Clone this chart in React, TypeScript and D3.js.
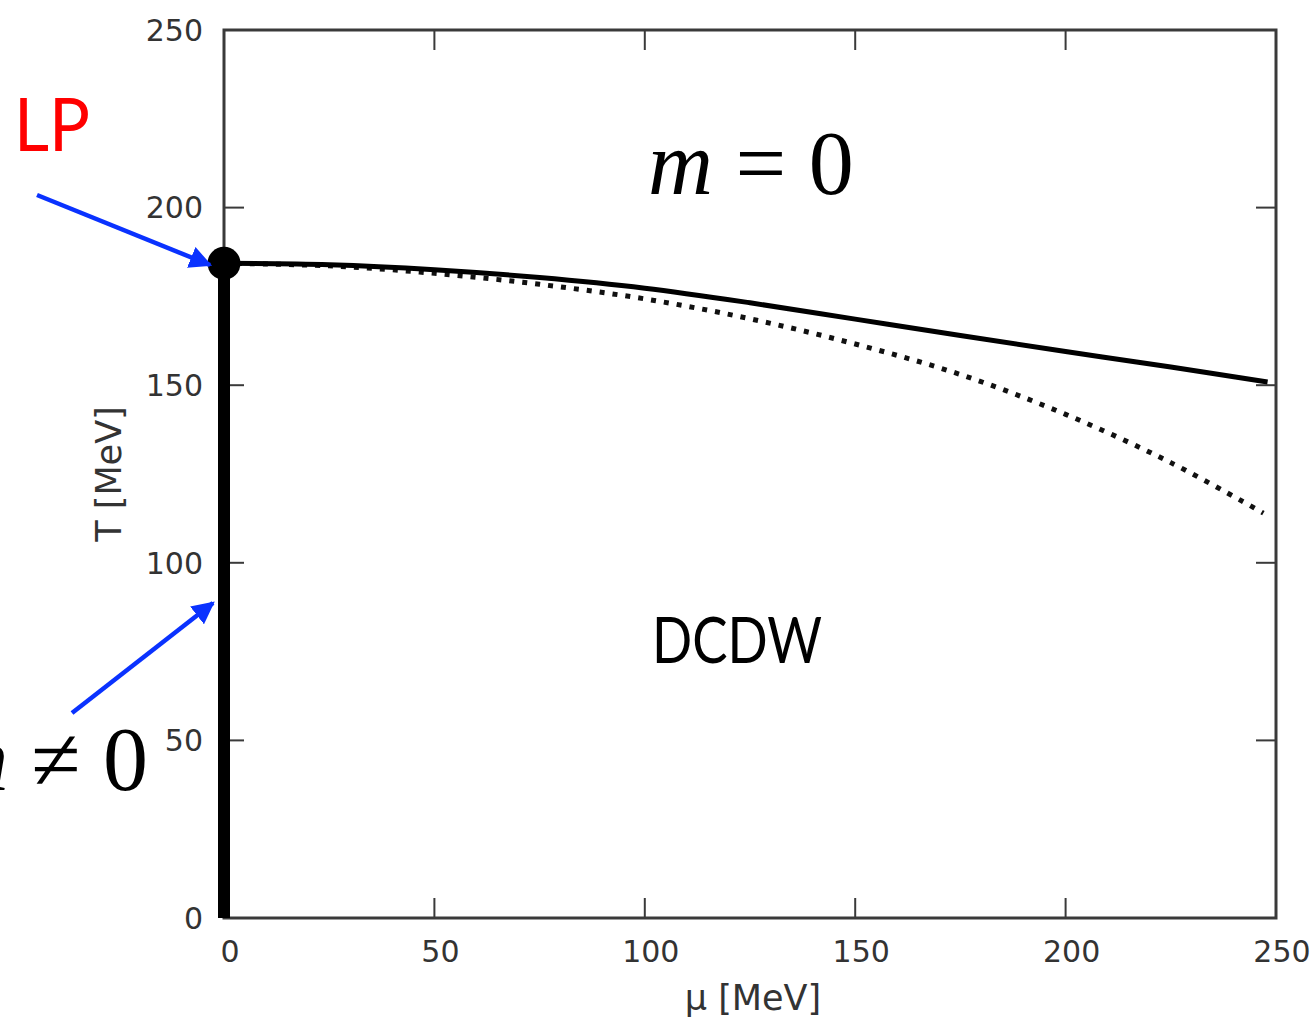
import React from "react";
import * as d3 from "d3";

const xTicks = [0, 50, 100, 150, 200, 250];
const yTicks = [0, 50, 100, 150, 200, 250];

const muSolid = [0, 25, 50, 75, 100, 125, 150, 175, 200, 225, 248];
const tSolid = [184.3, 183.9, 182.5, 180.3, 177.3, 173.2, 168.6, 164.0, 159.5, 155.1, 150.9];

const muDotted = [0, 25, 50, 75, 100, 125, 150, 175, 200, 225, 247];
const tDotted = [184.3, 183.6, 181.5, 178.4, 174.3, 168.7, 161.6, 153.0, 141.8, 128.2, 114.0];

const lpMu = 0;
const lpT = 184.3;
const phaseLineT = [0, 184.3];

const W = 1314;
const H = 1019;

export default function App() {
  const x = d3.scaleLinear().domain([0, 250]).range([224, 1276]);
  const y = d3.scaleLinear().domain([0, 250]).range([918, 30]);

  const line = d3
    .line<[number, number]>()
    .x((d) => x(d[0]))
    .y((d) => y(d[1]))
    .curve(d3.curveCatmullRom);

  const solidPts: [number, number][] = muSolid.map((m, i) => [m, tSolid[i]]);
  const dottedPts: [number, number][] = muDotted.map((m, i) => [m, tDotted[i]]);

  const tickLen = 20;
  const gray = "#3a3a3a";
  const blue = "#0a32ff";
  const sans = "'DejaVu Sans', sans-serif";

  return (
    <svg
      width={W}
      height={H}
      style={{ position: "absolute", left: 0, top: 0, display: "block", background: "#fff" }}
    >
      <defs>
        <marker
          id="ah"
          viewBox="0 0 10 10"
          refX="9"
          refY="5"
          markerWidth="5"
          markerHeight="5"
          markerUnits="strokeWidth"
          orient="auto"
        >
          <path d="M0,0 L10,5 L0,10 z" fill={blue} />
        </marker>
      </defs>

      {/* ticks */}
      {xTicks.slice(1, -1).map((t) => (
        <g key={"xt" + t} stroke={gray} strokeWidth={2}>
          <line x1={x(t)} x2={x(t)} y1={y(0)} y2={y(0) - tickLen} />
          <line x1={x(t)} x2={x(t)} y1={y(250)} y2={y(250) + tickLen} />
        </g>
      ))}
      {yTicks.slice(1, -1).map((t) => (
        <g key={"yt" + t} stroke={gray} strokeWidth={2}>
          <line x1={x(0)} x2={x(0) + tickLen} y1={y(t)} y2={y(t)} />
          <line x1={x(250)} x2={x(250) - tickLen} y1={y(t)} y2={y(t)} />
        </g>
      ))}

      {/* frame */}
      <rect
        x={x(0)}
        y={y(250)}
        width={x(250) - x(0)}
        height={y(0) - y(250)}
        fill="none"
        stroke={gray}
        strokeWidth={3}
      />

      {/* tick labels */}
      {xTicks.map((t) => (
        <text
          key={"xl" + t}
          x={x(t) + 6}
          y={962}
          textAnchor="middle"
          fontFamily={sans}
          fontSize={30}
          fill="#333"
        >
          {t}
        </text>
      ))}
      {yTicks.map((t) => (
        <text
          key={"yl" + t}
          x={203}
          y={y(t)}
          dy="0.36em"
          textAnchor="end"
          fontFamily={sans}
          fontSize={30}
          fill="#333"
        >
          {t}
        </text>
      ))}

      {/* axis titles */}
      <text x={753} y={1010} textAnchor="middle" fontFamily={sans} fontSize={35} fill="#333">
        μ [MeV]
      </text>
      <text
        transform={`translate(121,474) rotate(-90)`}
        textAnchor="middle"
        fontFamily={sans}
        fontSize={35}
        fill="#333"
      >
        T [MeV]
      </text>

      {/* curves */}
      <path d={line(dottedPts) || ""} fill="none" stroke="#111" strokeWidth={5} strokeDasharray="5 8" />
      <path d={line(solidPts) || ""} fill="none" stroke="#000" strokeWidth={5} />
      <line
        x1={x(lpMu)}
        x2={x(lpMu)}
        y1={y(phaseLineT[0])}
        y2={y(phaseLineT[1])}
        stroke="#000"
        strokeWidth={12}
      />
      <circle cx={x(lpMu)} cy={y(lpT)} r={16.5} fill="#000" />

      {/* annotations */}
      <text x={14} y={151} fontFamily="Lato, sans-serif" fontSize={74} fill="#ff0000" textLength={76} lengthAdjust="spacingAndGlyphs">
        LP
      </text>
      <line x1={37} y1={195} x2={210} y2={265} stroke={blue} strokeWidth={4.5} markerEnd="url(#ah)" />
      <line x1={72} y1={713} x2={213} y2={603} stroke={blue} strokeWidth={4.5} markerEnd="url(#ah)" />

      <text x={648} y={194} fontFamily="'Liberation Serif', serif" fontSize={90} fill="#000">
        <tspan fontStyle="italic">m</tspan>
        <tspan> = 0</tspan>
      </text>
      <text x={148} y={790} textAnchor="end" fontFamily="'Liberation Serif', serif" fontSize={90} fill="#000">
        <tspan fontStyle="italic">m</tspan>
        <tspan> ≠ 0</tspan>
      </text>

      <text x={652} y={663} fontFamily="Lato, sans-serif" fontSize={64} fill="#000" textLength={170} lengthAdjust="spacingAndGlyphs">
        DCDW
      </text>
    </svg>
  );
}
